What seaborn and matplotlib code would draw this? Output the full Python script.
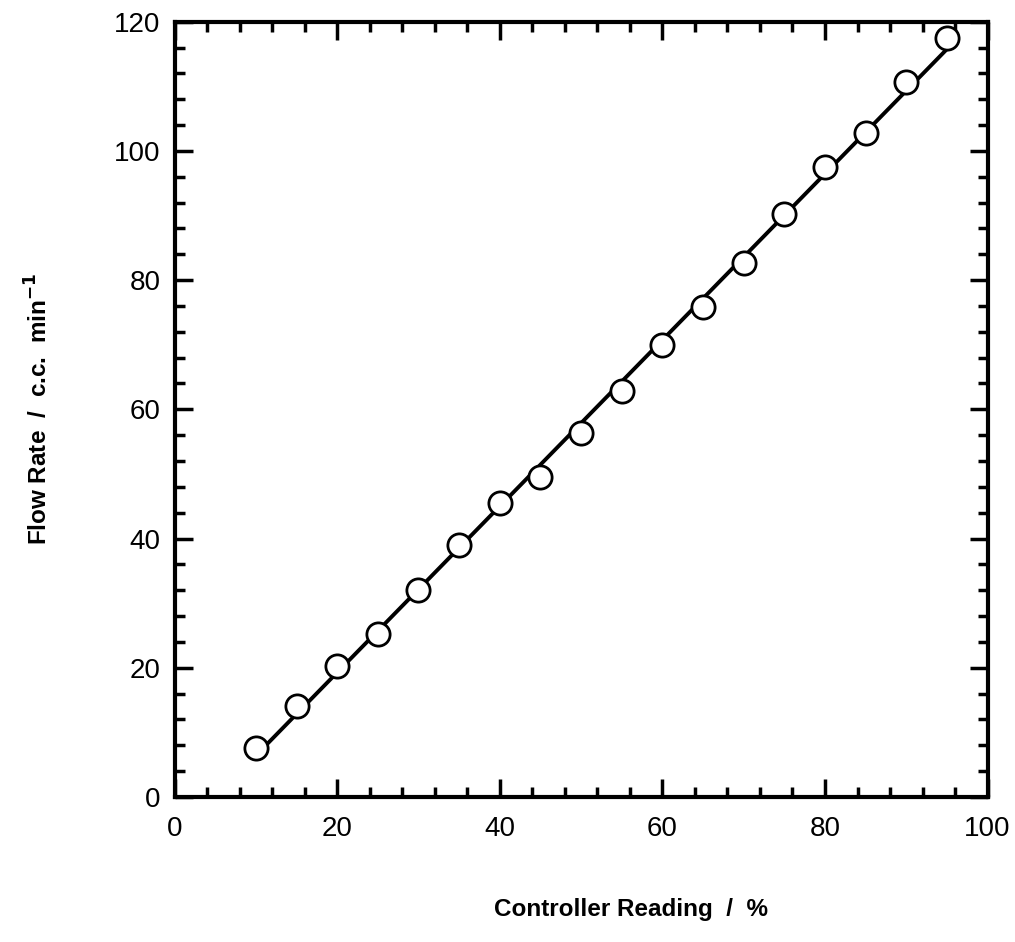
import numpy as np
import pandas as pd
import matplotlib
matplotlib.use("Agg")
import matplotlib.pyplot as plt
import seaborn as sns
from matplotlib.ticker import MultipleLocator

sns.set_style("ticks")
plt.rcParams['font.family'] = ['Liberation Sans', 'DejaVu Sans']

# Data
controller_reading = [10, 15, 20, 25, 30, 35, 40, 45, 50, 55, 60, 65, 70, 75, 80, 85, 90, 95]
flow_rate = [7.6, 14.1, 20.3, 25.2, 32.0, 39.0, 45.5, 49.5, 56.3, 62.8,
             70.0, 75.9, 82.6, 90.2, 97.5, 102.8, 110.6, 117.5]

df = pd.DataFrame({'x': controller_reading, 'y': flow_rate})

fig = plt.figure(figsize=(10.15, 9.42), dpi=100)
ax = fig.add_axes([0.172, 0.154, 0.801, 0.823])

# Least-squares line through the points
slope, intercept = np.polyfit(df['x'], df['y'], 1)
df['fit'] = slope * df['x'] + intercept
sns.lineplot(data=df, x='x', y='fit', ax=ax, color='black', linewidth=2.8, zorder=2)

sns.scatterplot(data=df, x='x', y='y', ax=ax, marker='o', s=280,
                facecolor='white', edgecolor='black', linewidth=2, zorder=3)

ax.set_xlim(0, 100)
ax.set_ylim(0, 120)
ax.xaxis.set_major_locator(MultipleLocator(20))
ax.xaxis.set_minor_locator(MultipleLocator(4))
ax.yaxis.set_major_locator(MultipleLocator(20))
ax.yaxis.set_minor_locator(MultipleLocator(4))

ax.tick_params(which='both', direction='in', top=True, right=True, width=2.5,
               labelsize=20, colors='black')
ax.tick_params(axis='x', pad=14)
ax.tick_params(axis='y', pad=10)
ax.tick_params(which='major', length=13)
ax.tick_params(which='minor', length=7)
for sp in ax.spines.values():
    sp.set_linewidth(3)
    sp.set_color('black')
    sp.set_visible(True)

ax.set_xlabel('Controller Reading  /  %', fontsize=17.5, fontweight='bold', color='black')
ax.set_ylabel('Flow Rate  /  c.c.  min$^{\\mathbf{-1}}$', fontsize=17.5, fontweight='bold', color='black')
ax.xaxis.set_label_coords(0.562, -0.13)
ax.yaxis.set_label_coords(-0.15, 0.5)

fig.savefig('out.png', dpi=100)
